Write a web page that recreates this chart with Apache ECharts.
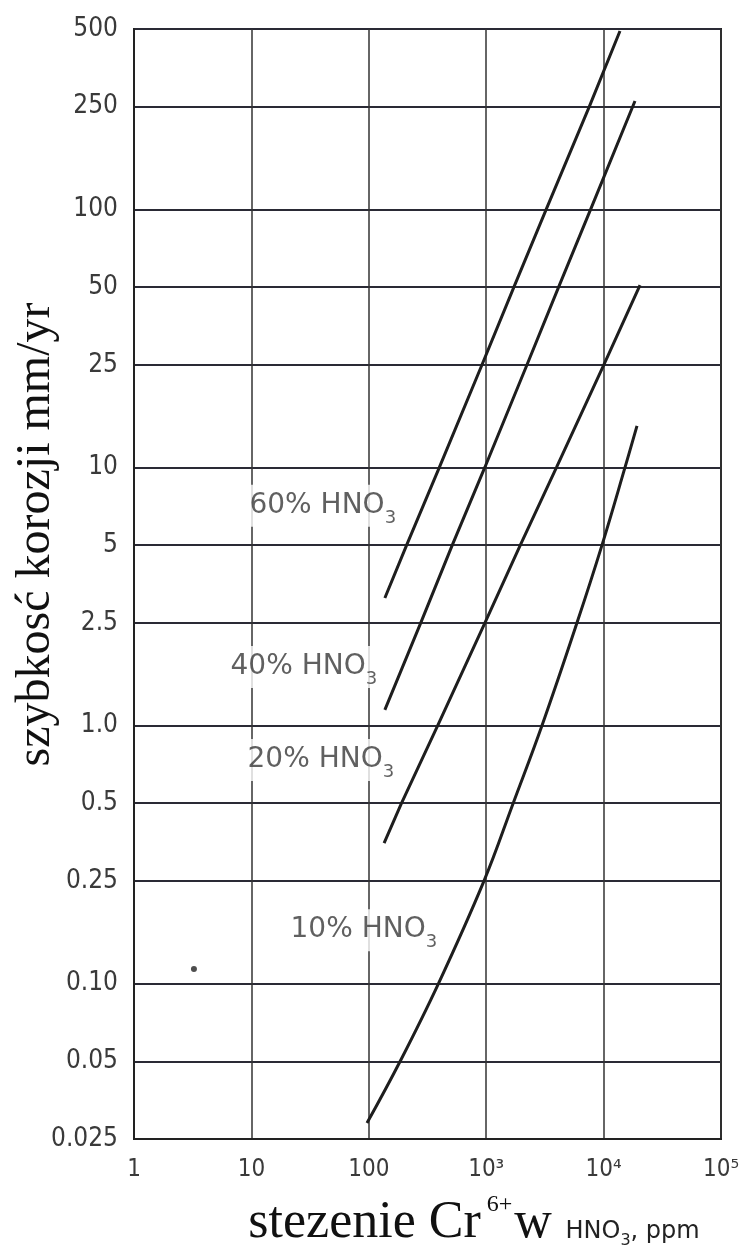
<!DOCTYPE html>
<html><head><meta charset="utf-8">
<script src="https://cdn.jsdelivr.net/npm/echarts@6/dist/echarts.min.js"></script>
<style>html,body{margin:0;padding:0;background:#fff}#c{width:746px;height:1250px}</style>
</head><body><div id="c"></div>
<script>
// ---- tick values / labels ----
const xTickValues = [1, 10, 100, 1000, 10000, 100000];
const xTickLabels = ['1', '10', '100', '10³', '10⁴', '10⁵'];
const yTickValues = [0.025, 0.05, 0.1, 0.25, 0.5, 1, 2.5, 5, 10, 25, 50, 100, 250, 500];
const yTickLabels = ['0.025', '0.05', '0.10', '0.25', '0.5', '1.0', '2.5', '5', '10', '25', '50', '100', '250', '500'];

// ---- curves: Cr6+ concentration (ppm) vs corrosion rate (mm/yr) ----
const conc60 = [137, 210, 399, 921, 1721, 3244, 7554, 13790];
const rate60 = [3.12, 5, 10, 25, 50, 100, 250, 491];
const conc40 = [137, 277, 514, 973, 2226, 4137, 7752, 18510];
const rate40 = [1.15, 2.5, 5, 10, 25, 50, 100, 263];
const conc20 = [135, 190, 386, 975, 1952, 3970, 10040, 20430];
const rate20 = [0.35, 0.5, 1.0, 2.5, 5, 10, 25, 50.9];
const conc10 = [96.5, 185, 392, 958, 1698, 2988, 5934, 9691, 15220, 19250];
const rate10 = [0.0288, 0.05, 0.10, 0.25, 0.5, 1.0, 2.5, 5, 10, 14.5];

// ---- curve labels (anchor = left/middle of text) ----
const labelPct = ['60%', '40%', '20%', '10%'];
const labelX = [9.17, 6.32, 8.82, 20.5];
const labelY = [7.1, 1.685, 0.735, 0.161];

// ---- stray dot ----
const dotX = [3.24];
const dotY = [0.114];

const narrow = "'Liberation Sans Narrow','Arial Narrow','DejaVu Sans Condensed',sans-serif";
const serif = "'Liberation Serif','Times New Roman',serif";

function pairs(xs, ys) { return xs.map((v, i) => [v, ys[i]]); }
function curve(name, xs, ys, smooth) {
  return {
    type: 'line', name: name, data: pairs(xs, ys), symbol: 'none', showSymbol: false,
    smooth: smooth, z: 3, silent: true,
    lineStyle: { color: '#1e1e1e', width: 3 }
  };
}

const chart = echarts.init(document.getElementById('c'), null, { renderer: 'canvas' });
chart.setOption({
  backgroundColor: '#fff',
  animation: false,
  grid: {
    left: 134, right: 25, top: 29, bottom: 111,
    show: true, borderColor: '#222', borderWidth: 2,
    outerBoundsMode: 'none'
  },
  xAxis: {
    type: 'log', logBase: 10, min: 1, max: 100000,
    axisLine: { show: true, lineStyle: { color: '#222', width: 2 } },
    axisTick: { show: false },
    splitLine: { show: true, lineStyle: { color: '#333', width: 1.5 } },
    axisLabel: {
      margin: 19, fontFamily: narrow, fontSize: 24, color: '#3a3a3a',
      showMinLabel: true, showMaxLabel: true,
      formatter: function (v) {
        const i = xTickValues.findIndex(t => Math.abs(t - v) / t < 1e-6);
        return i >= 0 ? xTickLabels[i] : '';
      }
    },
    name: '{a|stezenie Cr}{sup|6+}{a|w}{b1| HNO}{sub|3}{b|, ppm}',
    nameLocation: 'middle', nameGap: 54,
    nameTextStyle: {
      padding: [0, 0, 0, 93],
      rich: {
        a: { fontFamily: serif, fontSize: 52, color: '#111' },
        sup: { fontFamily: serif, fontSize: 24, color: '#111', padding: [0, 2, 36, 6] },
        b1: { fontFamily: "'DejaVu Sans',sans-serif", fontSize: 24, color: '#222', padding: [18, 0, 0, 6] },
        b: { fontFamily: "'DejaVu Sans',sans-serif", fontSize: 24, color: '#222', padding: [18, 0, 0, 0] },
        sub: { fontFamily: "'DejaVu Sans',sans-serif", fontSize: 16, color: '#222', padding: [36, 0, 0, 0] }
      }
    }
  },
  yAxis: {
    type: 'log', logBase: 10, min: 0.02499, max: 500.01,
    axisLine: { show: true, lineStyle: { color: '#222', width: 2 } },
    axisTick: { show: false, customValues: yTickValues },
    splitLine: { show: true, lineStyle: { color: '#2a2a35', width: 2 } },
    axisLabel: {
      customValues: yTickValues,
      margin: 16, fontFamily: narrow, fontSize: 26, color: '#3a3a3a',
      formatter: function (v) {
        const i = yTickValues.findIndex(t => Math.abs(t - v) / t < 1e-4);
        return i >= 0 ? yTickLabels[i] : '';
      }
    },
    name: 'szybkosć korozji mm/yr',
    nameLocation: 'middle', nameGap: 74, nameMoveOverlap: false,
    nameTextStyle: {
      fontFamily: serif, fontSize: 48, color: '#111',
      padding: [0, 0, 0, 99]
    }
  },
  series: [
    curve('60% HNO3', conc60, rate60, false),
    curve('40% HNO3', conc40, rate40, false),
    curve('20% HNO3', conc20, rate20, false),
    curve('10% HNO3', conc10, rate10, 0.4),
    {
      type: 'scatter', name: 'labels', silent: true, z: 5,
      symbolSize: 1, itemStyle: { color: 'rgba(0,0,0,0)' },
      data: labelX.map((v, i) => ({ value: [v, labelY[i]], name: labelPct[i] })),
      label: {
        show: true, position: 'right', distance: 0,
        backgroundColor: '#fff', padding: [0, 2],
        fontFamily: 'DejaVu Sans', fontSize: 28,
        formatter: p => '{a|' + p.name + ' HNO}{s|3}',
        rich: {
          a: { fontFamily: "'DejaVu Sans',sans-serif", fontSize: 28, color: '#383838' },
          s: { fontFamily: "'DejaVu Sans',sans-serif", fontSize: 18, color: '#383838', padding: [24, 0, 0, 0] }
        }
      }
    },
    {
      type: 'scatter', name: 'dot', silent: true, z: 4,
      symbolSize: 6, itemStyle: { color: '#222' },
      data: pairs(dotX, dotY)
    }
  ]
});
</script></body></html>
